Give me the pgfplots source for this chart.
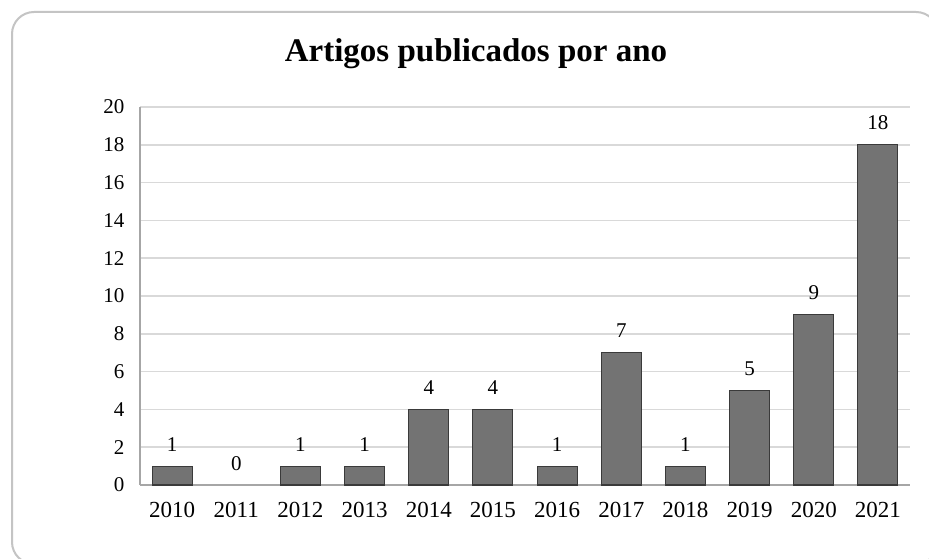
\documentclass[border=0pt]{standalone}
\usepackage{fontspec}
\setmainfont{Liberation Serif}
\usepackage{pgfplots}
\pgfplotsset{compat=1.18}
\definecolor{barfill}{HTML}{737373}
\definecolor{baredge}{HTML}{3A3A3A}
\definecolor{gridc}{HTML}{D9D9D9}
\definecolor{axisc}{HTML}{A6A6A6}
\definecolor{framec}{HTML}{C4C4C4}
\begin{document}
\begin{tikzpicture}[x=1pt,y=1pt]
\clip (0,0) rectangle (929,559);
\fill[white] (0,0) rectangle (929,559);
\draw[framec, line width=2pt, rounded corners=22pt] (12,-5) rectangle (938,547);
\node[anchor=base, font=\fontsize{33}{38}\selectfont\bfseries] at (476,497) {Artigos publicados por ano};
\begin{axis}[
  at={(140pt,74pt)}, anchor=south west,
  scale only axis, width=770pt, height=378pt,
  xmin=-0.5, xmax=11.5, ymin=0, ymax=20,
  ytick={0,2,...,20},
  xtick={0,...,11},
  xticklabels={2010,2011,2012,2013,2014,2015,2016,2017,2018,2019,2020,2021},
  /pgf/number format/assume math mode=true,
  axis x line*=bottom, axis y line*=left,
  axis line style={draw=axisc, line width=1.5pt, -},
  major tick length=0pt,
  ymajorgrids, grid style={draw=gridc, line width=1.5pt},
  yticklabel style={font=\fontsize{21}{23}\selectfont, xshift=-12pt},
  xticklabel style={font=\fontsize{23}{25}\selectfont, yshift=-14pt},
  ybar, bar width=40pt, bar shift=0pt,
  nodes near coords,
  every node near coord/.append style={font=\fontsize{21}{22}\selectfont, yshift=11pt, text=black},
  clip=false,
]
\addplot[fill=barfill, draw=baredge, line width=1.1pt] coordinates {
(0,1) (2,1) (3,1) (4,4) (5,4) (6,1) (7,7) (8,1) (9,5) (10,9) (11,18)
};
\addplot[fill=none, draw=none] coordinates {(1,0)};
\end{axis}
\end{tikzpicture}
\end{document}
